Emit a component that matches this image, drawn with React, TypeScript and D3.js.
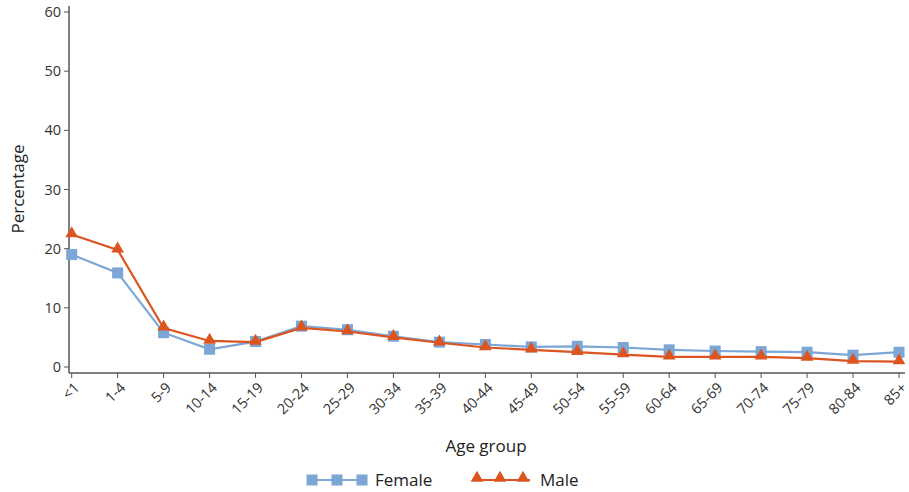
import React from "react";
import * as d3 from "d3";

const categories = ["<1","1-4","5-9","10-14","15-19","20-24","25-29","30-34","35-39","40-44","45-49","50-54","55-59","60-64","65-69","70-74","75-79","80-84","85+"];
const female = [19.0,15.9,5.8,3.0,4.3,6.9,6.3,5.2,4.2,3.8,3.4,3.5,3.3,2.9,2.7,2.6,2.5,2.0,2.5];
const male = [22.4,19.8,6.6,4.4,4.2,6.6,6.0,5.0,4.1,3.3,2.9,2.5,2.1,1.7,1.7,1.7,1.5,1.0,0.9];
const yTicks = [0,10,20,30,40,50,60];

const W = 909, H = 492;
const FONT = "'Open Sans', 'Noto Sans', sans-serif";
const FEMALE_C = "#7ba6d6";
const MALE_C = "#dc5520";

export default function App() {
  const x = d3.scalePoint<string>().domain(categories).range([71.7, 899]);
  const y = d3.scaleLinear().domain([0, 60]).range([367, 12]);
  const lineGen = d3.line<number>().x((_, i) => x(categories[i])!).y(d => y(d));
  const tri = d3.symbol().type(d3.symbolTriangle).size(70)();
  const axisY = 373;
  return (
    <svg width={W} height={H} style={{ position: "absolute", left: 0, top: 0, fontFamily: FONT }}>
      {/* axes */}
      <line x1={69} x2={69} y1={6} y2={axisY} stroke="#555" strokeWidth={1.5} />
      <line x1={69} x2={905} y1={axisY} y2={axisY} stroke="#555" strokeWidth={1.5} />
      {yTicks.map(t => (
        <g key={t}>
          <line x1={64} x2={69} y1={y(t)} y2={y(t)} stroke="#555" />
          <text x={61} y={y(t)} dy="0.35em" textAnchor="end" fontSize={14.5} fill="#333">{t}</text>
        </g>
      ))}
      {categories.map(c => (
        <g key={c}>
          <line x1={x(c)} x2={x(c)} y1={axisY} y2={axisY + 5} stroke="#555" />
          <text transform={`translate(${x(c)! + 5},${axisY + 12}) rotate(-45)`} textAnchor="end" fontSize={14.5} fill="#333" dy="0.35em">{c}</text>
        </g>
      ))}
      <text transform={`translate(24,189) rotate(-90)`} textAnchor="middle" fontSize={17} fill="#222">Percentage</text>
      <text x={486} y={452} textAnchor="middle" fontSize={17} fill="#222">Age group</text>
      {/* series */}
      <path d={lineGen(female)!} fill="none" stroke={FEMALE_C} strokeWidth={2.2} />
      {female.map((v, i) => (
        <rect key={i} x={x(categories[i])! - 5.5} y={y(v) - 5.5} width={11} height={11} fill={FEMALE_C} />
      ))}
      <path d={lineGen(male)!} fill="none" stroke={MALE_C} strokeWidth={2.2} />
      {male.map((v, i) => (
        <path key={i} d={tri!} transform={`translate(${x(categories[i])},${y(v) - 1})`} fill={MALE_C} />
      ))}
      {/* legend */}
      <g>
        <line x1={307} x2={367} y1={480} y2={480} stroke={FEMALE_C} strokeWidth={2.2} />
        {[312, 337, 362].map(cx => (
          <rect key={cx} x={cx - 5.5} y={474.5} width={11} height={11} fill={FEMALE_C} />
        ))}
        <text x={375} y={480} dy="0.35em" fontSize={17} fill="#222">Female</text>
        <line x1={472} x2={530} y1={480} y2={480} stroke={MALE_C} strokeWidth={2.2} />
        {[477, 500, 523].map(cx => (
          <path key={cx} d={tri!} transform={`translate(${cx},478)`} fill={MALE_C} />
        ))}
        <text x={540} y={480} dy="0.35em" fontSize={17} fill="#222">Male</text>
      </g>
    </svg>
  );
}
